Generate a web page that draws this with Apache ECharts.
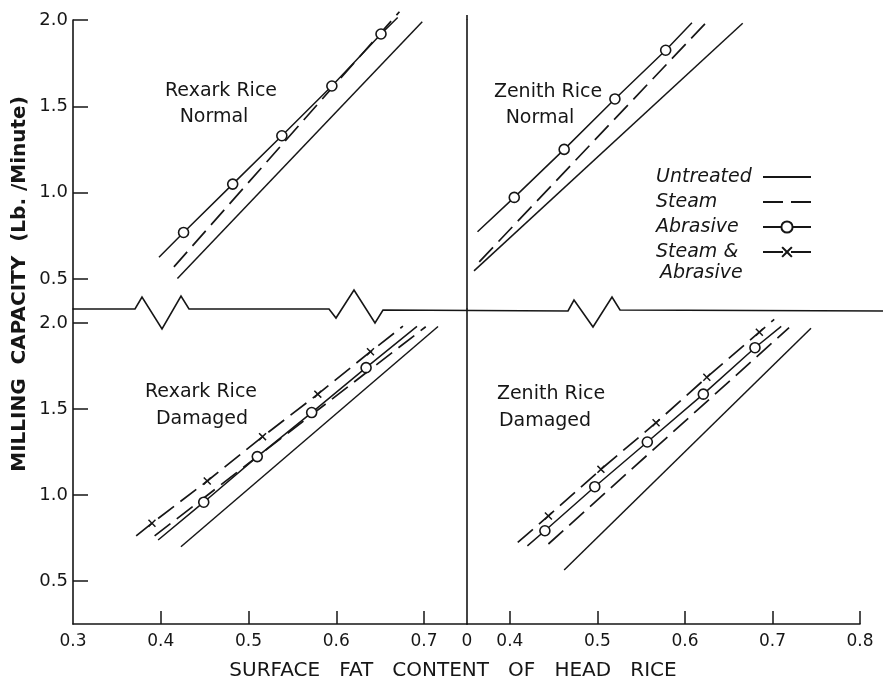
<!DOCTYPE html>
<html><head><meta charset="utf-8">
<script src="https://cdn.jsdelivr.net/npm/echarts@6/dist/echarts.min.js"></script>
<style>html,body{margin:0;padding:0;background:#fff}#c{width:883px;height:682px}</style>
</head><body><div id="c"></div>
<script>
// ---------- tick labels ----------
const yTickValues = [0.5, 1.0, 1.5, 2.0];
const xTickValuesLeft = [0.4, 0.5, 0.6, 0.7];
const xLabelValuesLeft = [0.3, 0.4, 0.5, 0.6, 0.7];
const xTickValuesRight = [0.4, 0.5, 0.6, 0.7, 0.8];
const xRightStart = 0.351;           // broken-axis start, labelled "0"
const xLabelValuesRight = [xRightStart, 0.4, 0.5, 0.6, 0.7, 0.8];
const xRightStartLabel = '0';

// ---------- axis ranges ----------
const xLeftRange = [0.3, 0.749];
const xRightRange = [xRightStart, 0.8];
const yTopRange = [0.327, 2.0];
const yBottomRange = [0.25, 2.081];

// ---------- categories ----------
const seriesNames = ['Untreated', 'Steam', 'Abrasive', 'Steam & Abrasive'];
const panelTitles = [['Rexark Rice', 'Normal'], ['Zenith Rice', 'Normal'], ['Rexark Rice', 'Damaged'], ['Zenith Rice', 'Damaged']];

// ---------- data: [surface fat, milling capacity] ----------
// Rexark normal
const rexNormUntreated = [[0.419, 0.503], [0.698, 1.990]];
const rexNormSteam = [[0.415, 0.571], [0.672, 2.048]];
const rexNormAbrasiveLine = [[0.398, 0.627], [0.670, 2.015]];
const rexNormAbrasivePts = [[0.426, 0.770], [0.482, 1.050], [0.538, 1.330], [0.595, 1.618], [0.651, 1.919]];
// Zenith normal
const zenNormUntreated = [[0.359, 0.548], [0.666, 1.981]];
const zenNormSteam = [[0.365, 0.600], [0.624, 1.984]];
const zenNormAbrasiveLine = [[0.363, 0.774], [0.608, 1.984]];
const zenNormAbrasivePts = [[0.405, 0.973], [0.462, 1.251], [0.520, 1.543], [0.578, 1.825]];
// Rexark damaged
const rexDamUntreated = [[0.423, 0.699], [0.716, 1.979]];
const rexDamSteam = [[0.393, 0.762], [0.702, 1.978]];
const rexDamAbrasiveLine = [[0.397, 0.738], [0.692, 1.980]];
const rexDamAbrasivePts = [[0.449, 0.958], [0.510, 1.223], [0.572, 1.479], [0.634, 1.740]];
const rexDamSteamAbrLine = [[0.372, 0.762], [0.676, 1.981]];
const rexDamSteamAbrPts = [[0.390, 0.836], [0.453, 1.081], [0.516, 1.339], [0.579, 1.586], [0.639, 1.833]];
// Zenith damaged
const zenDamUntreated = [[0.462, 0.564], [0.744, 1.969]];
const zenDamSteam = [[0.444, 0.715], [0.719, 1.973]];
const zenDamAbrasiveLine = [[0.420, 0.704], [0.710, 1.980]];
const zenDamAbrasivePts = [[0.440, 0.792], [0.497, 1.048], [0.557, 1.308], [0.621, 1.586], [0.680, 1.856]];
const zenDamSteamAbrLine = [[0.409, 0.724], [0.702, 2.021]];
const zenDamSteamAbrPts = [[0.444, 0.878], [0.504, 1.149], [0.567, 1.420], [0.625, 1.684], [0.685, 1.946]];

// ---------- styling ----------
const INK = '#161616';
const FONT = 'DejaVu Sans';
const DASH = [20, 8];
const X_MARK = 'path://M0,1.3L1.3,0L5,3.7L8.7,0L10,1.3L6.3,5L10,8.7L8.7,10L5,6.3L1.3,10L0,8.7L3.7,5Z';
const NO_MARK = { color: 'rgba(0,0,0,0)', borderWidth: 0, borderColor: 'rgba(0,0,0,0)' };

function withPts(line, pts) {
  return [{ value: line[0], symbol: 'none' }].concat(pts.map(p => ({ value: p })), [{ value: line[1], symbol: 'none' }]);
}

function untreated(gi, d) {
  return { name: seriesNames[0], type: 'line', xAxisIndex: gi, yAxisIndex: gi, data: d, symbol: 'circle', showSymbol: false, clip: false,
    itemStyle: NO_MARK, lineStyle: { color: INK, width: 1.5, type: 'solid' } };
}
function steam(gi, d) {
  return { name: seriesNames[1], type: 'line', xAxisIndex: gi, yAxisIndex: gi, data: d, symbol: 'circle', showSymbol: false, clip: false,
    itemStyle: NO_MARK, lineStyle: { color: INK, width: 1.7, type: DASH } };
}
function abrasive(gi, line, pts) {
  return { name: seriesNames[2], type: 'line', xAxisIndex: gi, yAxisIndex: gi, data: withPts(line, pts), clip: false,
    symbol: 'circle', symbolSize: 10, showAllSymbol: true,
    itemStyle: { color: '#fff', borderColor: INK, borderWidth: 1.6 },
    lineStyle: { color: INK, width: 1.5, type: 'solid' } };
}
function steamAbr(gi, line, pts) {
  return { name: seriesNames[3], type: 'line', xAxisIndex: gi, yAxisIndex: gi, data: withPts(line, pts), clip: false,
    symbol: X_MARK, symbolSize: 8, showAllSymbol: true,
    itemStyle: { color: INK, borderWidth: 0 },
    lineStyle: { color: INK, width: 1.7, type: DASH } };
}

const grids = [
  { left: 73, top: 20, width: 394, height: 289 },
  { left: 467, top: 20, width: 393, height: 289 },
  { left: 73, top: 309, width: 394, height: 315 },
  { left: 467, top: 309, width: 393, height: 315 }
].map(g => Object.assign({ outerBoundsMode: 'none', containLabel: false }, g));

const labelStyle = { color: INK, fontSize: 17, fontFamily: FONT };

function xAxisCfg(gi, range, show, tickVals, labelVals, fmt) {
  return {
    type: 'value', gridIndex: gi, min: range[0], max: range[1], show: show,
    axisLine: { show: show, onZero: false, lineStyle: { color: INK, width: 1.6 } },
    axisTick: { show: show, inside: true, length: 13, customValues: tickVals, lineStyle: { color: INK, width: 1.5 } },
    axisLabel: Object.assign({ show: show, customValues: labelVals, formatter: fmt, margin: 9 }, labelStyle),
    splitLine: { show: false }
  };
}
function yAxisCfg(gi, range, withTicks) {
  return {
    type: 'value', gridIndex: gi, min: range[0], max: range[1],
    axisLine: { show: true, onZero: false, lineStyle: { color: INK, width: 1.6 } },
    axisTick: { show: withTicks, inside: true, length: 15, customValues: yTickValues, lineStyle: { color: INK, width: 1.5 } },
    axisLabel: Object.assign({ show: withTicks, customValues: yTickValues, formatter: v => v.toFixed(1), margin: 5 }, labelStyle, { fontSize: 18 }),
    splitLine: { show: false }
  };
}

const fmtLeft = v => v.toFixed(1);
const fmtRight = v => (Math.abs(v - xRightStart) < 1e-9 ? xRightStartLabel : v.toFixed(1));

// break line with zig-zags (decoration)
const breakLine = [[73,309],[135,309],[142,297],[162,329],[181,296],[189,309],[329,309],[336,318],[354,290],[375,323],[383,310],
  [568,311],[574,300],[593,327],[612,297],[620,310],[883,311]];

function panelText(t, x, y) {
  return { type: 'text', x: x, y: y, style: { text: t, fill: INK, font: '19px "DejaVu Sans"', align: 'center', verticalAlign: 'middle' } };
}

const legendText = { fontStyle: 'italic', fontSize: 19, fontFamily: FONT, color: INK };

const option = {
  animation: false,
  backgroundColor: '#fff',
  grid: grids,
  xAxis: [
    xAxisCfg(0, xLeftRange, false, [], [], fmtLeft),
    xAxisCfg(1, xRightRange, false, [], [], fmtRight),
    xAxisCfg(2, xLeftRange, true, xTickValuesLeft, xLabelValuesLeft, fmtLeft),
    xAxisCfg(3, xRightRange, true, xTickValuesRight, xLabelValuesRight, fmtRight)
  ],
  yAxis: [
    yAxisCfg(0, yTopRange, true),
    yAxisCfg(1, yTopRange, false),
    yAxisCfg(2, yBottomRange, true),
    yAxisCfg(3, yBottomRange, false)
  ],
  legend: [
    {
      data: seriesNames.slice(0, 3), orient: 'vertical', left: 656, top: 167, padding: 0, itemGap: 5,
      itemWidth: 48, itemHeight: 14, align: 'right',
      formatter: n => '{t|' + n + '}',
      textStyle: Object.assign({ lineHeight: 20, rich: { t: Object.assign({ width: 102, align: 'left', lineHeight: 20 }, legendText) } }, legendText)
    },
    {
      data: [seriesNames[3]], orient: 'vertical', left: 656, top: 220.5, padding: 0,
      itemWidth: 48, itemHeight: 14, align: 'right',
      formatter: n => '{t|Steam &}\n{u|Abrasive}',
      textStyle: Object.assign({ padding: [21, 0, 0, 0], lineHeight: 21, rich: {
        t: Object.assign({ width: 102, align: 'left', lineHeight: 21 }, legendText),
        u: Object.assign({ width: 98, align: 'left', lineHeight: 21, padding: [0, 0, 0, 4] }, legendText) } }, legendText)
    }
  ],
  graphic: [
    { type: 'polyline', shape: { points: breakLine }, style: { stroke: INK, lineWidth: 1.6, fill: null } },
    { type: 'line', shape: { x1: 467, y1: 15, x2: 467, y2: 20 }, style: { stroke: INK, lineWidth: 1.6 } },
    panelText(panelTitles[0][0], 221, 91), panelText(panelTitles[0][1], 214, 117),
    panelText(panelTitles[1][0], 548, 92), panelText(panelTitles[1][1], 540, 118),
    panelText(panelTitles[2][0], 201, 392), panelText(panelTitles[2][1], 202, 419),
    panelText(panelTitles[3][0], 551, 394), panelText(panelTitles[3][1], 545, 421),
    { type: 'text', x: 20, y: 284, rotation: Math.PI / 2,
      style: { text: 'MILLING  CAPACITY  (Lb. /Minute)', fill: INK, font: 'bold 20px "DejaVu Sans"', align: 'center', verticalAlign: 'middle' } },
    { type: 'text', x: 453, y: 671,
      style: { text: 'SURFACE   FAT   CONTENT   OF   HEAD   RICE', fill: INK, font: '20px "DejaVu Sans"', align: 'center', verticalAlign: 'middle' } }
  ],
  series: [
    untreated(0, rexNormUntreated), steam(0, rexNormSteam), abrasive(0, rexNormAbrasiveLine, rexNormAbrasivePts),
    untreated(1, zenNormUntreated), steam(1, zenNormSteam), abrasive(1, zenNormAbrasiveLine, zenNormAbrasivePts),
    untreated(2, rexDamUntreated), steam(2, rexDamSteam), abrasive(2, rexDamAbrasiveLine, rexDamAbrasivePts), steamAbr(2, rexDamSteamAbrLine, rexDamSteamAbrPts),
    untreated(3, zenDamUntreated), steam(3, zenDamSteam), abrasive(3, zenDamAbrasiveLine, zenDamAbrasivePts), steamAbr(3, zenDamSteamAbrLine, zenDamSteamAbrPts)
  ]
};

const chart = echarts.init(document.getElementById('c'), null, { renderer: 'canvas' });
chart.setOption(option);
</script>
</body></html>
